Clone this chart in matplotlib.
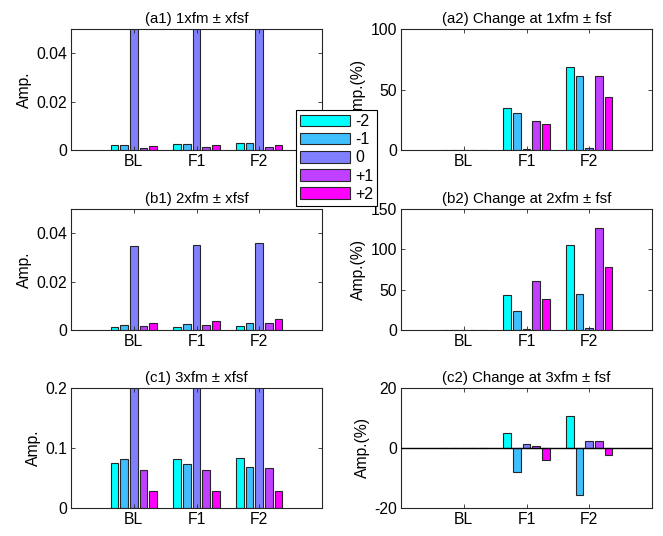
import matplotlib
matplotlib.use("Agg")
import matplotlib.pyplot as plt
from matplotlib.patches import Patch
import numpy as np

plt.rcParams['font.family'] = ['Liberation Sans', 'DejaVu Sans']

categories = ["BL", "F1", "F2"]
series_labels = ["-2", "-1", "0", "+1", "+2"]
colors = [(0, 1, 1), (0.25, 0.75, 1), (0.5, 0.5, 1), (0.75, 0.25, 1), (1, 0, 1)]

# rows: categories, cols: series (-2,-1,0,+1,+2)
a1 = [[0.0019, 0.0019, 0.12, 0.0007, 0.0016],
      [0.0023, 0.0023, 0.12, 0.0011, 0.0019],
      [0.0027, 0.0027, 0.12, 0.0012, 0.0019]]
b1 = [[0.0012, 0.0019, 0.0348, 0.0016, 0.0027],
      [0.0011, 0.0023, 0.0352, 0.0019, 0.0036],
      [0.0016, 0.0027, 0.0358, 0.0027, 0.0044]]
c1 = [[0.075, 0.081, 0.5, 0.064, 0.029],
      [0.081, 0.074, 0.5, 0.064, 0.029],
      [0.084, 0.068, 0.5, 0.066, 0.029]]
a2 = [[0, 0, 0, 0, 0],
      [34.6, 30.5, 0.8, 24.2, 21.7],
      [69.0, 61.5, 1.6, 61.5, 43.7]]
b2 = [[0, 0, 0, 0, 0],
      [43.6, 23.0, 1.2, 61.0, 39.0],
      [105.0, 45.0, 2.9, 126.7, 77.8]]
c2 = [[0, 0, 0, 0, 0],
      [5.0, -8.0, 1.3, 0.7, -4.0],
      [10.6, -15.8, 2.4, 2.4, -2.4]]

titles = ["(a1) 1xfm \u00b1 xfsf", "(a2) Change at 1xfm \u00b1 fsf",
          "(b1) 2xfm \u00b1 xfsf", "(b2) Change at 2xfm \u00b1 fsf",
          "(c1) 3xfm \u00b1 xfsf", "(c2) Change at 3xfm \u00b1 fsf"]
ylims = [(0, 0.05), (0, 100), (0, 0.05), (0, 150), (0, 0.2), (-20, 20)]
yticks = [[0, 0.02, 0.04], [0, 50, 100], [0, 0.02, 0.04], [0, 50, 100, 150],
          [0, 0.1, 0.2], [-20, 0, 20]]
yticklabels = [["0", "0.02", "0.04"], ["0", "50", "100"], ["0", "0.02", "0.04"],
               ["0", "50", "100", "150"], ["0", "0.1", "0.2"], ["-20", "0", "20"]]
ylabels = ["Amp.", "Amp.(%)", "Amp.", "Amp.(%)", "Amp.", "Amp.(%)"]
datasets = [a1, a2, b1, b2, c1, c2]

W, H = 663, 536
fig = plt.figure(figsize=(W / 100, H / 100), dpi=100)

rows_px = [(29, 150), (209, 330), (388, 508)]
cols_px = [(71, 322), (401, 652)]

edge = (0.15, 0.15, 0.15)
nser = 5
groupw = nser / (nser + 1.5)
slot = groupw / nser
barw = slot * 0.8
x = np.arange(1, len(categories) + 1)

for i in range(6):
    r, c = divmod(i, 2)
    y0, y1 = rows_px[r]
    x0, x1 = cols_px[c]
    ax = fig.add_axes([x0 / W, 1 - y1 / H, (x1 - x0) / W, (y1 - y0) / H])
    data = np.array(datasets[i])
    for s in range(nser):
        ax.bar(x + (s - 2) * slot, data[:, s], width=barw, color=colors[s],
               edgecolor=edge, linewidth=0.8)
    if i == 5:
        ax.axhline(0, color='black', linewidth=1.0, zorder=3)
    ax.set_xlim(0, 4)
    ax.set_ylim(*ylims[i])
    ax.set_xticks(x)
    ax.set_xticklabels(categories)
    ax.set_yticks(yticks[i])
    ax.set_yticklabels(yticklabels[i])
    ax.tick_params(direction='in', top=True, right=True, labelsize=11.3,
                   length=3, width=0.6, colors=edge, labelcolor='black', pad=3)
    for sp in ax.spines.values():
        sp.set_color(edge)
        sp.set_linewidth(0.8)
    ax.set_title(titles[i], fontsize=10.8, pad=4)
    ax.set_ylabel(ylabels[i], fontsize=11.3, labelpad=3)

handles = [Patch(facecolor=colors[s], edgecolor=edge, linewidth=0.8) for s in range(nser)]
fig.legend(handles, series_labels, loc='upper left',
           bbox_to_anchor=(296 / W, 1 - 110 / H), fontsize=11.5,
           handlelength=3.1, handleheight=0.75, handletextpad=0.35,
           labelspacing=0.2, borderpad=0.25, borderaxespad=0,
           fancybox=False, framealpha=1, edgecolor='black')
leg = fig.legends[0]
leg.get_frame().set_linewidth(0.8)

fig.savefig("out.png", dpi=100)
